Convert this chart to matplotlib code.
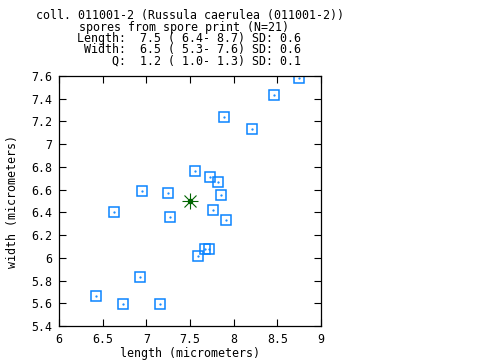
import matplotlib
matplotlib.use("Agg")
import matplotlib.pyplot as plt

# spore measurements (micrometers)
length = [8.75, 8.465, 7.893, 8.214, 7.561, 7.733, 7.824, 6.954, 7.252, 7.858,
          6.633, 7.275, 7.767, 7.916, 7.675, 7.718, 7.595, 6.931, 6.427, 6.736, 7.16]
width = [7.58, 7.43, 7.236, 7.131, 6.761, 6.708, 6.664, 6.585, 6.567, 6.55,
         6.40, 6.356, 6.418, 6.330, 6.075, 6.075, 6.013, 5.828, 5.661, 5.590, 5.590]
mean_length = 7.5
mean_width = 6.5

xticks = [6, 6.5, 7, 7.5, 8, 8.5, 9]
xticklabels = ["6", "6.5", "7", "7.5", "8", "8.5", "9"]
yticks = [5.4, 5.6, 5.8, 6, 6.2, 6.4, 6.6, 6.8, 7, 7.2, 7.4, 7.6]
yticklabels = ["5.4", "5.6", "5.8", "6", "6.2", "6.4", "6.6", "6.8", "7", "7.2", "7.4", "7.6"]

title_lines = [
    (36, 15.5, "coll. 011001-2 (Russula caerulea (011001-2))"),
    (79, 27, "spores from spore print (N=21)"),
    (77, 38.5, "Length:  7.5 ( 6.4- 8.7) SD: 0.6"),
    (77, 50, " Width:  6.5 ( 5.3- 7.6) SD: 0.6"),
    (77, 61.5, "     Q:  1.2 ( 1.0- 1.3) SD: 0.1"),
]

plt.rcParams['font.family'] = 'DejaVu Sans Mono'
FS = 8.4
W, H = 480, 360

fig = plt.figure(figsize=(4.8, 3.6), dpi=100)
ax = fig.add_axes([59 / W, 1 - 326 / H, 262 / W, 250 / H])

blue = '#0a84ff'
ax.plot(length, width, ls='none', marker='s', ms=7.2, mfc='none', mec=blue, mew=1.1)
ax.plot(length, width, ls='none', marker='.', ms=1.2, color=blue)

# mean marker (asterisk)
green = '#006400'
ax.plot([mean_length], [mean_width], marker='+', ms=11, mew=0.8, color=green)
ax.plot([mean_length], [mean_width], marker='x', ms=8, mew=0.8, color=green)
ax.plot([mean_length], [mean_width], marker='o', ms=3, color=green)

ax.set_xlim(6, 9)
ax.set_ylim(5.4, 7.6)
ax.set_xticks(xticks)
ax.set_xticklabels(xticklabels, fontsize=FS)
ax.set_yticks(yticks)
ax.set_yticklabels(yticklabels, fontsize=FS)
ax.tick_params(direction='in', length=5, width=0.8, top=True, right=True, pad=5)
for s in ax.spines.values():
    s.set_linewidth(0.9)

fig.text(190 / W, 1 - 354 / H, "length (micrometers)", ha='center', va='center', fontsize=FS)
fig.text(12.5 / W, 1 - 201 / H, "width (micrometers)", ha='center', va='center',
         rotation=90, fontsize=FS)

for x, y, s in title_lines:
    fig.text(x / W, 1 - y / H, s, ha='left', va='center', fontsize=FS)

fig.savefig("out.png", dpi=100)
